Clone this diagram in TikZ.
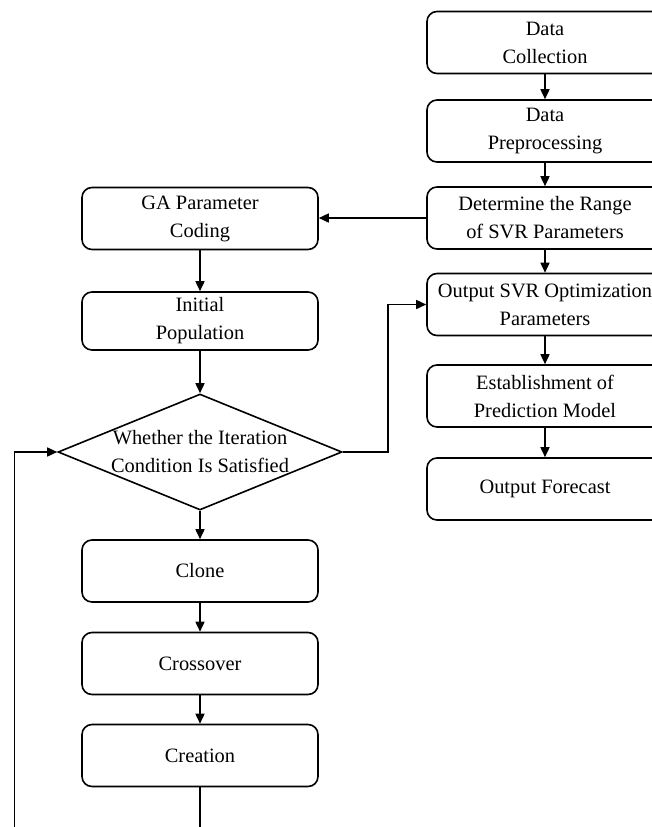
\documentclass[tikz,border=0pt]{standalone}
\usepackage{fontspec}
\setmainfont{Liberation Serif}
\usetikzlibrary{arrows.meta,shapes.geometric}

\begin{document}
\begin{tikzpicture}[
    x=1pt, y=-1pt,
    every node/.style={font=\fontsize{20.4}{28}\selectfont},
    stepbox/.style={draw, line width=1.6pt, rounded corners=10pt,
      minimum width=236pt, minimum height=62pt, inner sep=0pt,
      align=center},
    decision/.style={draw, line width=1.6pt, diamond, aspect=2.45,
      minimum width=284pt, minimum height=116pt, inner sep=0pt},
    flow/.style={line width=1.6pt, -{Triangle[length=10pt,width=9pt]}},
    plain/.style={line width=1.6pt}
  ]
  \useasboundingbox (0,0) rectangle (652,827);
  \clip (0,0) rectangle (652,827);

  % SVR column
  \node[stepbox] (collect) at (545,42.5) {Data\\Collection};
  \node[stepbox] (prep)    at (545,131)  {Data\\Preprocessing};
  \node[stepbox] (range)   at (545,218)  {Determine the Range\\of SVR Parameters};
  \node[stepbox] (svrout)  at (545,304.5){Output SVR Optimization\\Parameters};
  \node[stepbox] (model)   at (545,396)  {Establishment of\\Prediction Model};
  \node[stepbox] (fcast)   at (545,489)  {Output Forecast};

  % GA column
  \node[stepbox] (coding)  at (200,218.5){GA Parameter\\Coding};
  \node[stepbox, minimum height=58pt] (initpop) at (200,321) {Initial\\Population};
  \node[decision, label={[align=center, inner sep=0pt]center:Whether the Iteration\\Condition Is Satisfied}] (check) at (200,452) {};
  \node[stepbox] (clone)   at (200,571)  {Clone};
  \node[stepbox] (cross)   at (200,663.5){Crossover};
  \node[stepbox] (create)  at (200,755.5){Creation};

  \coordinate (loopbot) at (14.5,840);
  \coordinate (createbot) at (200,840);

  % SVR chain
  \draw[flow] (collect) -- (prep);
  \draw[flow] (prep) -- (range);
  \draw[flow] (range) -- (svrout);
  \draw[flow] (svrout) -- (model);
  \draw[flow] (model) -- (fcast);

  % GA chain
  \draw[flow] (range.west) -- (range.west -| coding.east);
  \draw[flow] (coding) -- (initpop);
  \draw[flow] (initpop) -- (check);
  \draw[flow] (check.east) -- ++(45,0) |- (svrout.west);
  \draw[flow] (check) -- (clone);
  \draw[flow] (clone) -- (cross);
  \draw[flow] (cross) -- (create);
  \draw[plain] (create) -- (createbot);
  \draw[flow] (loopbot) |- (check.west);
\end{tikzpicture}
\end{document}
